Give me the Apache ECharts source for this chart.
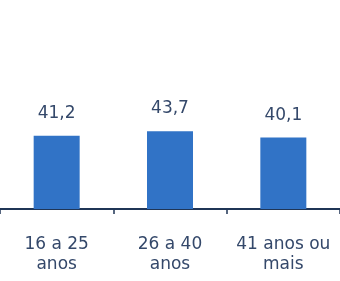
<!DOCTYPE html>
<html>
<head>
<meta charset="utf-8"/>
<script src="https://cdn.jsdelivr.net/npm/echarts@6/dist/echarts.min.js"></script>
<style>
html,body{margin:0;padding:0;background:#fff;}
#main{width:340px;height:281px;}
</style>
</head>
<body>
<div id="main"></div>
<script>
var categories = ['16 a 25\nanos', '26 a 40\nanos', '41 anos ou\nmais'];
var values = [41.2, 43.7, 40.1];

var myChart = echarts.init(document.getElementById('main'));
var option = {
    animation: false,
    grid: {
        left: -3,
        right: 0,
        top: 31,
        bottom: 72,
        containLabel: false
    },
    xAxis: {
        type: 'category',
        data: categories,
        axisLine: { lineStyle: { color: '#1f3556', width: 2 } },
        axisTick: { show: true, length: 5, lineStyle: { color: '#1f3556', width: 1.5 } },
        axisLabel: {
            color: '#34486a',
            fontFamily: 'DejaVu Sans',
            fontSize: 17,
            lineHeight: 20,
            margin: 26,
            interval: 0
        }
    },
    yAxis: {
        type: 'value',
        min: 0,
        max: 100,
        show: false
    },
    series: [{
        type: 'bar',
        data: values,
        barWidth: 46,
        itemStyle: { color: '#3173c6' },
        label: {
            show: true,
            position: 'top',
            distance: 14,
            color: '#34486a',
            fontFamily: 'DejaVu Sans',
            fontSize: 17,
            formatter: function (p) { return p.value.toFixed(1).replace('.', ','); }
        }
    }]
};
myChart.setOption(option);
</script>
</body>
</html>
